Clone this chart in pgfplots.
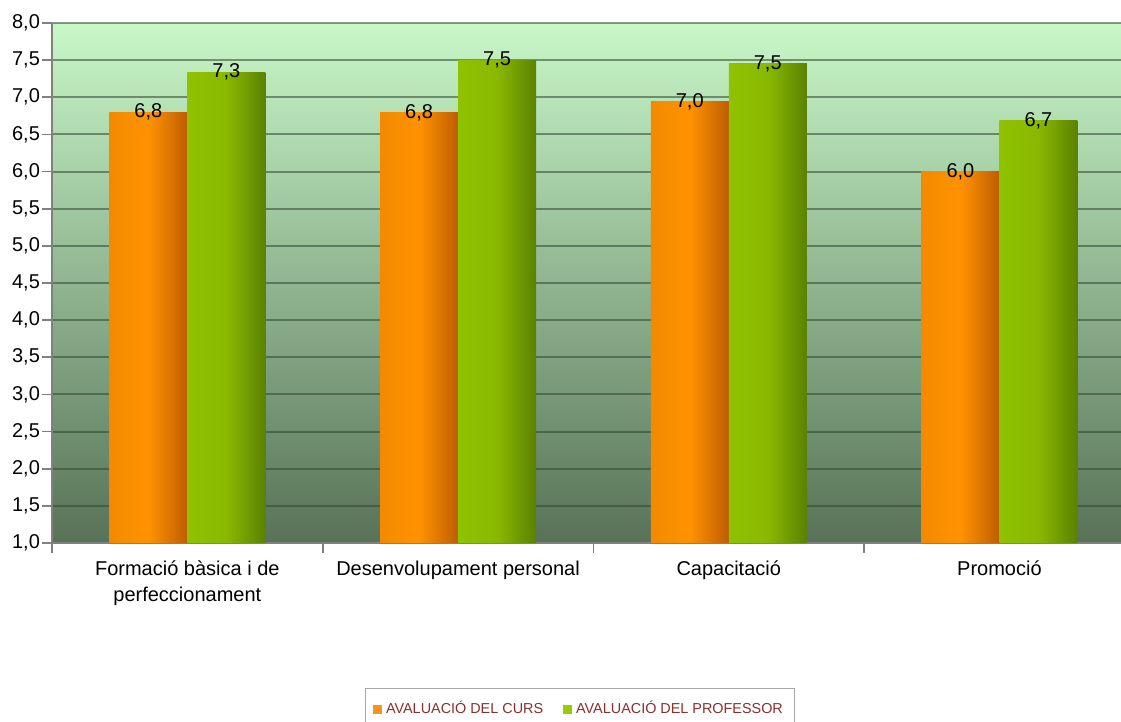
\documentclass[border=0pt]{standalone}
\usepackage{pgfplots}
\pgfplotsset{compat=1.18}
\usepackage{fontspec}
\setmainfont{Liberation Sans}

\definecolor{bgtop}{HTML}{C8F7C8}
\definecolor{bgbot}{HTML}{587258}
\definecolor{gridc}{HTML}{2E4530}
\definecolor{orL}{HTML}{F28A00}
\definecolor{orM}{HTML}{FF9200}
\definecolor{orR}{HTML}{BF5D00}
\definecolor{grL}{HTML}{8FC200}
\definecolor{grM}{HTML}{8AB800}
\definecolor{grR}{HTML}{5A8200}
\definecolor{legor}{HTML}{F7941D}
\definecolor{leggr}{HTML}{99CC00}
\definecolor{legtext}{HTML}{8B2E2E}

\pgfplotsset{
    curs/.style={ybar, forget plot, bar width=39pt, bar shift=-19.5pt, draw=none,
        left color=orL, right color=orR, middle color=orM,
        every node near coord/.append style={xshift=-19.5pt}},
    prof/.style={ybar, forget plot, bar width=39pt, bar shift=19.5pt, draw=none,
        left color=grL, right color=grR, middle color=grM,
        every node near coord/.append style={xshift=19.5pt}},
}

\begin{document}
\begin{tikzpicture}
\useasboundingbox (0,0) rectangle (560.5pt,361pt);
\begin{axis}[
    at={(26pt,89.5pt)}, anchor=south west,
    scale only axis, width=534.5pt, height=260pt,
    xmin=-0.5, xmax=3.449, ymin=1, ymax=8,
    axis x line*=bottom, axis y line*=left,
    axis line style={draw=gray, line width=1pt},
    tick align=outside, major tick length=5pt,
    tick style={draw=gray, line width=0.8pt},
    ytick={1,1.5,2,2.5,3,3.5,4,4.5,5,5.5,6,6.5,7,7.5,8},
    yticklabel style={xshift=2.5pt, /pgf/number format/.cd, fixed, fixed zerofill, precision=1, use comma, assume math mode=true},
    ymajorgrids, major grid style={draw=gridc, draw opacity=0.55, line width=1pt},
    xtick={-0.5,0.5,1.5,2.5}, xticklabels={},
    extra x ticks={0,1,2,3},
    extra x tick labels={{Formació bàsica i de\\perfeccionament}, Desenvolupament personal, Capacitació, Promoció},
    extra x tick style={major tick length=0pt},
    xticklabel style={align=center, yshift=-5.5pt},
    tick label style={font=\fontsize{10}{13}\selectfont, text=black},
    axis background/.style={shade, top color=bgtop, bottom color=bgbot},
    point meta=explicit symbolic,
    nodes near coords, nodes near coords align={center},
    every node near coord/.append style={font=\fontsize{10}{12}\selectfont, text=black},
    legend columns=2,
    legend style={at={(0.4939,-0.2788)}, anchor=north, draw=gray!70, line width=0.5pt,
        inner xsep=4pt, inner ysep=4.5pt,
        font=\fontsize{7.2}{8}\selectfont, text=legtext,
        /tikz/every even column/.append style={column sep=8pt}},
]
\addlegendimage{legend image code/.code={\fill[legor] (0pt,-2pt) rectangle (4pt,2pt);}}
\addlegendimage{legend image code/.code={\fill[leggr] (0pt,-2pt) rectangle (4pt,2pt);}}
\legend{AVALUACIÓ DEL CURS, AVALUACIÓ DEL PROFESSOR}

% AVALUACIÓ DEL CURS
\addplot[curs] coordinates {(0,6.80) [6,8]};
\addplot[curs] coordinates {(1,6.79) [6,8]};
\addplot[curs] coordinates {(2,6.94) [7,0]};
\addplot[curs] coordinates {(3,6.00) [6,0]};
% AVALUACIÓ DEL PROFESSOR
\addplot[prof] coordinates {(0,7.34) [7,3]};
\addplot[prof] coordinates {(1,7.50) [7,5]};
\addplot[prof] coordinates {(2,7.45) [7,5]};
\addplot[prof] coordinates {(3,6.69) [6,7]};
\end{axis}
\end{tikzpicture}
\end{document}
